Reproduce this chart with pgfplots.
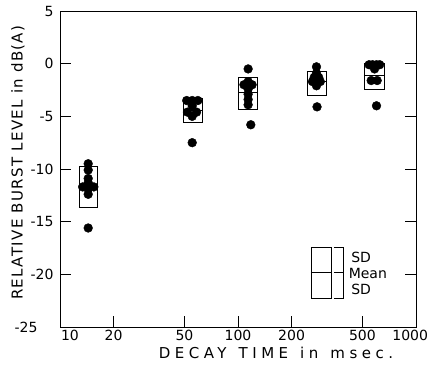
\documentclass[border=0pt]{standalone}
\usepackage{pgfplots}
\pgfplotsset{compat=1.18}
\usepackage{fontspec}
\setmainfont{DejaVu Sans}
\newfontfamily\ylfont[LetterSpace=9]{DejaVu Sans}
\newfontfamily\xlfont[LetterSpace=30,WordSpace=1.3]{DejaVu Sans}
\begin{document}
\begin{tikzpicture}[font=\fontsize{14}{16}\selectfont]
\useasboundingbox (-60pt,-37pt) rectangle (370pt,327pt);
\begin{axis}[
  scale only axis, width=356pt, height=316pt,
  xmode=log, xmin=10, xmax=1000, ymin=-25, ymax=5,
  xtick={10,20,50,100,200,500,1000},
  xticklabels={\hspace*{20pt}10,20,50,100,200,500,\makebox[24pt][r]{1000}},
  minor xtick={},
  ytick={-25,-20,-15,-10,-5,0,5},
  yticklabels={-25\hspace*{16pt},-20,-15,-10,-5,0,5},
  tick align=inside, xtick pos=bottom, ytick pos=both, yticklabel pos=left,
  major tick length=11pt,
  axis line style={line width=0.9pt},
  every tick/.style={black, line width=0.9pt},
  yticklabel style={xshift=-3pt},
  xlabel={\xlfont DECAY TIME in msec.},
  ylabel={\ylfont RELATIVE BURST LEVEL in dB(A)},
  xlabel style={at={(axis description cs:0,0)}, anchor=center, xshift=216pt, yshift=-26pt, font=\fontsize{15}{17}\selectfont},
  ylabel style={at={(axis description cs:-0.118,0.52)}, anchor=center, font=\fontsize{15}{17}\selectfont},
]
% boxes (mean +/- SD)
\addplot[black, line width=0.6pt] coordinates {(12.9,-9.7)(16.2,-9.7)(16.2,-13.6)(12.9,-13.6)(12.9,-9.7)};
\addplot[black, line width=0.6pt] coordinates {(12.9,-11.6)(16.2,-11.6)};
\addplot[black, line width=0.6pt] coordinates {(49,-3.3)(63,-3.3)(63,-5.6)(49,-5.6)(49,-3.3)};
\addplot[black, line width=0.6pt] coordinates {(49,-4.4)(63,-4.4)};
\addplot[black, line width=0.6pt] coordinates {(101,-1.3)(129,-1.3)(129,-4.3)(101,-4.3)(101,-1.3)};
\addplot[black, line width=0.6pt] coordinates {(101,-2.7)(129,-2.7)};
\addplot[black, line width=0.6pt] coordinates {(244,-0.7)(312,-0.7)(312,-3.0)(244,-3.0)(244,-0.7)};
\addplot[black, line width=0.6pt] coordinates {(244,-1.7)(312,-1.7)};
\addplot[black, line width=0.6pt] coordinates {(510,0.0)(665,0.0)(665,-2.4)(510,-2.4)(510,0.0)};
\addplot[black, line width=0.6pt] coordinates {(510,-1.1)(665,-1.1)};
% individual data
\addplot[only marks, mark=*, mark size=4.4pt, black] coordinates {
(14.4,-9.5)(14.4,-10.1)(14.4,-10.9)(14.4,-11.3)(13.4,-11.7)(15.5,-11.7)(14.4,-11.9)(14.4,-12.4)(14.4,-15.6)
(51.5,-3.5)(55.3,-3.5)(59.5,-3.5)(55.3,-4.0)(52,-4.6)(58.5,-4.6)(55.3,-5.0)(55.3,-7.5)
(114,-0.5)(114,-1.7)(108,-2.0)(120,-2.0)(114,-2.4)(114,-2.9)(114,-3.4)(114,-3.9)(118,-5.8)
(276,-0.3)(276,-0.9)(268,-1.3)(284,-1.3)(262,-1.7)(276,-1.7)(290,-1.7)(276,-2.1)(278,-4.1)
(545,-0.1)(570,-0.1)(600,-0.1)(625,-0.1)(585,-0.5)(560,-1.6)(605,-1.6)(600,-4.0)
};
% legend
\addplot[black, line width=0.6pt] coordinates {(257,-17.4)(333,-17.4)(333,-22.3)(257,-22.3)(257,-17.4)};
\addplot[black, line width=0.6pt] coordinates {(257,-19.8)(333,-19.8)};
\addplot[black, line width=0.6pt] coordinates {(346,-17.4)(389,-17.4)(389,-22.3)(346,-22.3)};
\addplot[black, line width=0.6pt] coordinates {(346,-19.8)(389,-19.8)};
\node[anchor=west, inner sep=0pt] at (axis cs:432,-18.4) {SD};
\node[anchor=west, inner sep=0pt] at (axis cs:418,-19.9) {Mean};
\node[anchor=west, inner sep=0pt] at (axis cs:432,-21.4) {SD};
\end{axis}
\end{tikzpicture}
\end{document}
